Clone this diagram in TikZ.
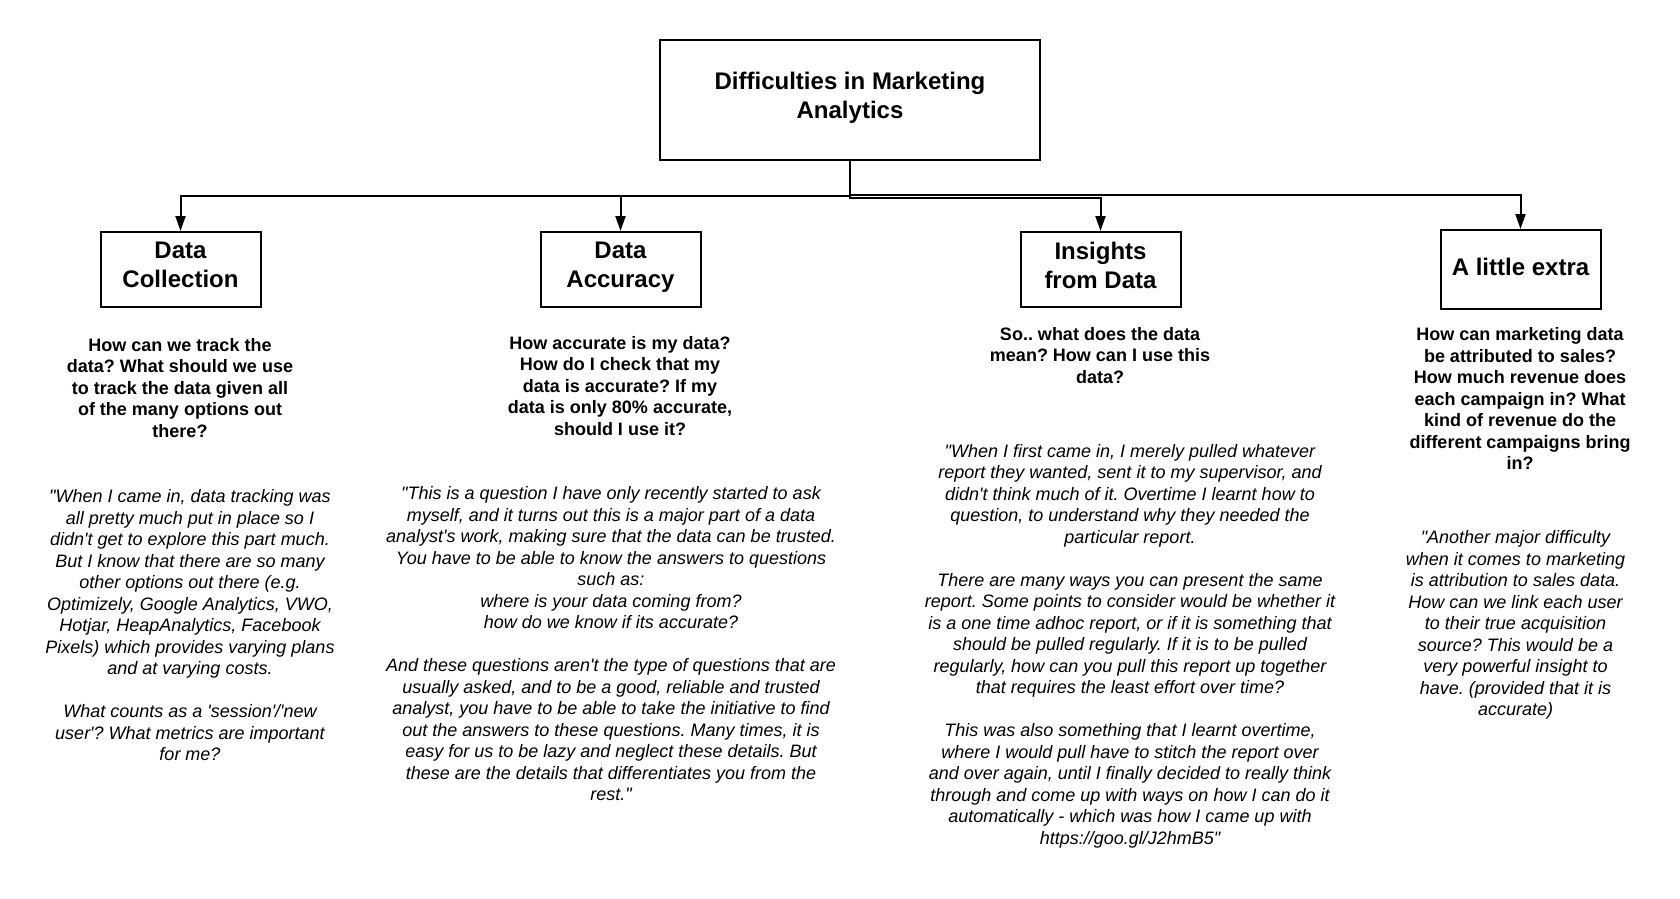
\documentclass[tikz,border=0pt]{standalone}
\usepackage{fontspec}
\setmainfont{Liberation Sans}[Ligatures=TeXOff]
\usetikzlibrary{arrows.meta}
\frenchspacing
\begin{document}
\begin{tikzpicture}[x=1pt,y=-1pt,
  box/.style={draw=black,line width=2pt,inner sep=0pt,align=center,
    font=\fontsize{24}{29}\selectfont\bfseries,
    execute at begin node=\strut,
    execute at end node=\rule[-4.7pt]{0pt}{20pt}},
  question/.style={align=center,inner sep=0pt,
    font=\fontsize{18}{21.5}\selectfont\bfseries},
  quote/.style={align=center,inner sep=0pt,
    font=\fontsize{18}{21.5}\selectfont\itshape},
  conn/.style={line width=2pt,-{Triangle[length=15pt,width=10pt]}}]
\useasboundingbox (0,0) rectangle (1680,898);

% boxes
\node[box,minimum width=380,minimum height=120] (root) at (850,100)
  {Difficulties in Marketing\\Analytics};
\node[box,minimum width=160,minimum height=75] (dc) at (180.5,269.5)
  {Data\\Collection};
\node[box,minimum width=160,minimum height=75] (da) at (620.5,269.5)
  {Data\\Accuracy};
\node[box,minimum width=160,minimum height=75] (ins) at (1100.5,269.5)
  {Insights\\from Data};
\node[box,minimum width=160,minimum height=79] (ext) at (1520.5,269.5)
  {A little extra};

% junctions
\coordinate (jl) at (850,196);
\coordinate (ji) at (850,198);
\coordinate (jr) at (850,195);

\draw[conn] (root.south) -- (jl) -| (dc.north);
\draw[conn] (root.south) -- (jl) -| (da.north);
\draw[conn] (root.south) -- (ji) -| (ins.north);
\draw[conn] (root.south) -- (jr) -| (ext.north);

% questions
\node[question] (q1) at (180,388)
  {How can we track the\\data? What should we use\\to track the data given all\\of the many options out\\there?};
\node[question] (q2) at (620,386)
  {How accurate is my data?\\How do I check that my\\data is accurate? If my\\data is only 80\% accurate,\\should I use it?};
\node[question] (q3) at (1100,355.5)
  {So.. what does the data\\mean? How can I use this\\data?};
\node[question] (q4) at (1520,398.5)
  {How can marketing data\\be attributed to sales?\\How much revenue does\\each campaign in? What\\kind of revenue do the\\different campaigns bring\\in?};

% quotes
\node[quote] (t1) at (190,625.5)
  {"When I came in, data tracking was\\all pretty much put in place so I\\didn't get to explore this part much.\\But I know that there are so many\\other options out there (e.g.\\Optimizely, Google Analytics, VWO,\\Hotjar, HeapAnalytics, Facebook\\Pixels) which provides varying plans\\and at varying costs.\\[21.5pt]What counts as a 'session'/'new\\user'? What metrics are important\\for me?};
\node[quote] (t2) at (611,644)
  {"This is a question I have only recently started to ask\\myself, and it turns out this is a major part of a data\\analyst's work, making sure that the data can be trusted.\\You have to be able to know the answers to questions\\such as:\\where is your data coming from?\\how do we know if its accurate?\\[21.5pt]And these questions aren't the type of questions that are\\usually asked, and to be a good, reliable and trusted\\analyst, you have to be able to take the initiative to find\\out the answers to these questions. Many times, it is\\easy for us to be lazy and neglect these details. But\\these are the details that differentiates you from the\\rest."};
\node[quote] (t3) at (1130,646)
  {"When I first came in, I merely pulled whatever\\report they wanted, sent it to my supervisor, and\\didn't think much of it. Overtime I learnt how to\\question, to understand why they needed the\\particular report.\\[21.5pt]There are many ways you can present the same\\report. Some points to consider would be whether it\\is a one time adhoc report, or if it is something that\\should be pulled regularly. If it is to be pulled\\regularly, how can you pull this report up together\\that requires the least effort over time?\\[21.5pt]This was also something that I learnt overtime,\\where I would pull have to stitch the report over\\and over again, until I finally decided to really think\\through and come up with ways on how I can do it\\automatically - which was how I came up with\\https://goo.gl/J2hmB5"};
\node[quote] (t4) at (1515.5,625)
  {"Another major difficulty\\when it comes to marketing\\is attribution to sales data.\\How can we link each user\\to their true acquisition\\source? This would be a\\very powerful insight to\\have. (provided that it is\\accurate)};
\end{tikzpicture}
\end{document}
